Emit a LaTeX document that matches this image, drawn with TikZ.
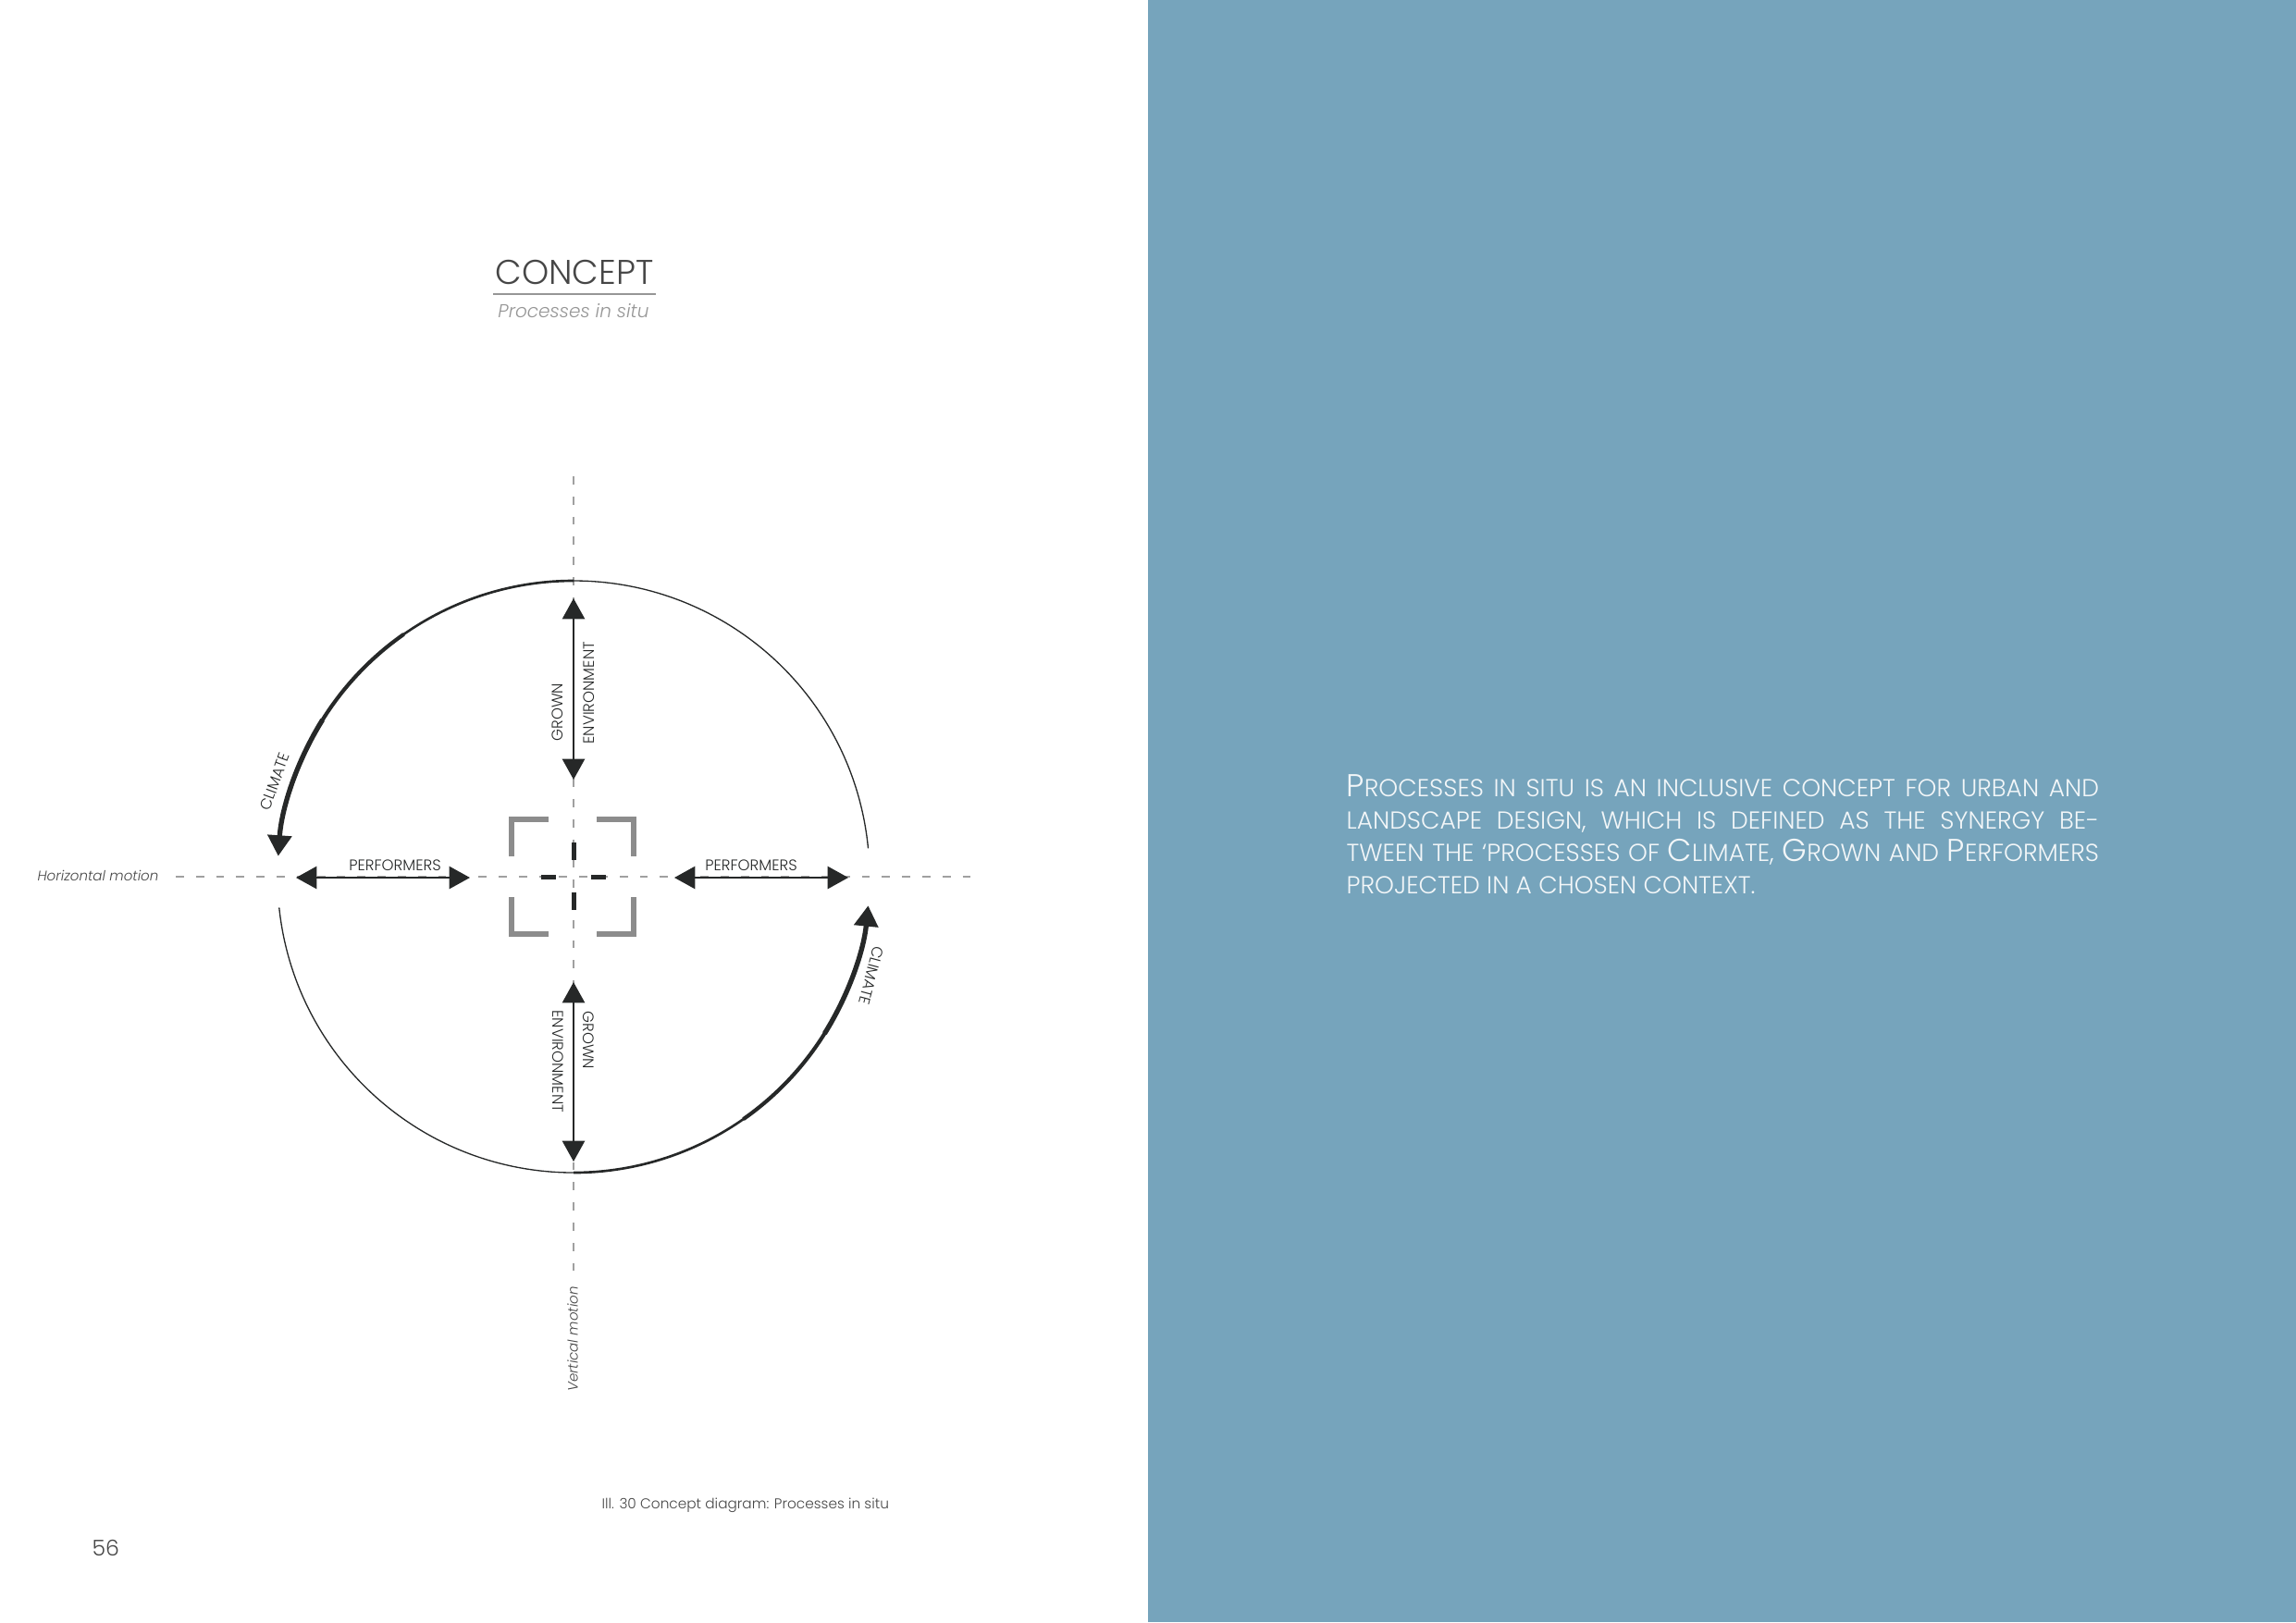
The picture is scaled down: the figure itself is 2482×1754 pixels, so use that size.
\documentclass[tikz,border=0pt]{standalone}
\usepackage{fontspec}
\setmainfont{Poppins}[UprightFont={* Light},ItalicFont={* Light Italic}]
\usepackage{xcolor}
\usetikzlibrary{arrows.meta}

\definecolor{panelblue}{RGB}{118,164,188}
\definecolor{inkdark}{RGB}{38,40,40}
\definecolor{axisgrey}{RGB}{160,160,160}
\definecolor{framegrey}{RGB}{140,140,140}
\definecolor{softgrey}{RGB}{150,150,150}
\definecolor{labelgrey}{RGB}{70,70,70}
\definecolor{paperwhite}{RGB}{242,246,248}

\newcommand{\capsbig}[1]{{\fontsize{11.6}{13}\selectfont #1}}

\tikzset{
  axisline/.style={draw=axisgrey, line width=0.4pt, dash pattern={on 3pt off 4.4pt}},
  flowarrow/.style={draw=inkdark, line width=0.8pt, {Triangle[length=7.6pt,width=8.2pt]}-{Triangle[length=7.6pt,width=8.2pt]}},
  climatehead/.style={draw=inkdark, line width=1.8pt, -{Triangle[length=7.6pt,width=8.6pt]}},
  bracket/.style={draw=framegrey, line width=2.2pt, line cap=butt, line join=miter},
  tick/.style={draw=inkdark, line width=1.7pt},
  caplabel/.style={inner sep=0pt, text=inkdark, font=\fontsize{5.6}{6.5}\selectfont},
  paraline/.style={anchor=base west, inner sep=0pt, text=paperwhite, font=\fontsize{9}{11.9}\selectfont}
}

\begin{document}
\begin{tikzpicture}[x=0.3393pt,y=-0.3393pt]
\useasboundingbox (0,0) rectangle (2482,1754);

%Shape: Rectangle [id:panel]
\fill[panelblue] (1241,0) rectangle (2482,1754);

% Text Node
\node[anchor=base, inner sep=0pt, text=labelgrey, font=\fontsize{12.6}{14}\selectfont] (title) at (621,307) {CONCEPT};
%Straight Lines [id:rule]
\draw[softgrey, line width=0.5pt] (533,318) -- (709,318);
% Text Node
\node[anchor=base, inner sep=0pt, text=softgrey, font=\fontsize{6.8}{8}\selectfont\itshape] (subtitle) at (620,343) {Processes in situ};

%Straight Lines [id:axes]
\coordinate (hstart) at (190,948);
\coordinate (hend) at (1053,948);
\coordinate (vstart) at (620,515);
\coordinate (vend) at (620,1377);
\draw[axisline] (hstart) -- (hend);
\draw[axisline] (vstart) -- (vend);

%Shape: Circle [id:thin arcs]
\coordinate (centre) at (620,948);
\draw[inkdark, line width=0.45pt] (centre) ++(-90:320) arc[start angle=-90, end angle=-5.5, radius=320];
\draw[inkdark, line width=0.45pt] (centre) ++(90:320) arc[start angle=90, end angle=174, radius=320];

%Shape: Arc [id:climate left]
\draw[inkdark, line width=0.9pt] (centre) ++(-90:320) arc[start angle=-90, end angle=-130, radius=320];
\draw[inkdark, line width=1.4pt] (centre) ++(-125:320) arc[start angle=-125, end angle=-150, radius=320];
\draw[climatehead] (centre) ++(-148:320) arc[start angle=-148, end angle=-176, radius=320];
%Shape: Arc [id:climate right]
\draw[inkdark, line width=0.9pt] (centre) ++(90:320) arc[start angle=90, end angle=50, radius=320];
\draw[inkdark, line width=1.4pt] (centre) ++(55:320) arc[start angle=55, end angle=30, radius=320];
\draw[climatehead] (centre) ++(32:320) arc[start angle=32, end angle=5.6, radius=320];

%Straight Lines [id:performers]
\coordinate (perfLa) at (320,949);
\coordinate (perfLb) at (508,949);
\coordinate (perfRa) at (729,949);
\coordinate (perfRb) at (917,949);
\draw[flowarrow] (perfLa) -- (perfLb);
\draw[flowarrow] (perfRa) -- (perfRb);
%Straight Lines [id:grown]
\coordinate (growTa) at (620,647);
\coordinate (growTb) at (620,843);
\coordinate (growBa) at (620,1062);
\coordinate (growBb) at (620,1256);
\draw[flowarrow] (growTa) -- (growTb);
\draw[flowarrow] (growBa) -- (growBb);

%Shape: Brackets [id:frame]
\draw[bracket] (553,926) -- (553,886) -- (593,886);
\draw[bracket] (645,886) -- (685,886) -- (685,926);
\draw[bracket] (553,970) -- (553,1010) -- (593,1010);
\draw[bracket] (645,1010) -- (685,1010) -- (685,970);
\draw[tick] (620,911) -- (620,930);
\draw[tick] (620,965) -- (620,984);
\draw[tick] (585,948) -- (601,948);
\draw[tick] (639,948) -- (655,948);

% Text Node
\node[caplabel, anchor=base] (perfLlabel) at (427,941) {PERFORMERS};
% Text Node
\node[caplabel, anchor=base] (perfRlabel) at (812,941) {PERFORMERS};
% Text Node
\node[caplabel, anchor=west, rotate=90] (growTleft) at (603,802) {GROWN};
% Text Node
\node[caplabel, anchor=west, rotate=90] (growTright) at (637,805) {ENVIRONMENT};
% Text Node
\node[caplabel, anchor=west, rotate=-90] (growBleft) at (603,1092) {ENVIRONMENT};
% Text Node
\node[caplabel, anchor=west, rotate=-90] (growBright) at (636,1093) {GROWN};
% Text Node
\node[caplabel, rotate=70] (climLlabel) at (297,845) {CLIMATE};
% Text Node
\node[caplabel, rotate=-105] (climRlabel) at (942,1055) {CLIMATE};

% Text Node
\node[anchor=base east, inner sep=0pt, text=labelgrey, font=\fontsize{5.1}{6}\selectfont\itshape] (hmotion) at (172,952) {Horizontal motion};
% Text Node
\node[inner sep=0pt, rotate=90, text=labelgrey, font=\fontsize{5.1}{6}\selectfont\itshape] (vmotion) at (619,1448) {Vertical motion};

% Text Node
\node[anchor=base west, inner sep=0pt, text=labelgrey, font=\fontsize{5.2}{7}\selectfont] (caption) at (650,1631) {Ill. 30 Concept diagram: Processes in situ};
% Text Node
\node[anchor=base west, inner sep=0pt, text=labelgrey, font=\fontsize{8}{10}\selectfont] (pagenum) at (99,1682) {56};

% Text Node
\node[paraline] (para1) at (1455,861) {\makebox[276pt][s]{\capsbig{P}ROCESSES IN SITU IS AN INCLUSIVE CONCEPT FOR URBAN AND}};
\node[paraline] (para2) at (1455,896) {\makebox[276pt][s]{LANDSCAPE DESIGN, WHICH IS DEFINED AS THE SYNERGY BE-}};
\node[paraline] (para3) at (1455,931) {\makebox[276pt][s]{TWEEN THE `PROCESSES OF \capsbig{C}LIMATE, \capsbig{G}ROWN AND \capsbig{P}ERFORMERS}};
\node[paraline] (para4) at (1455,966) {PROJECTED IN A CHOSEN CONTEXT.};
\end{tikzpicture}
\end{document}
